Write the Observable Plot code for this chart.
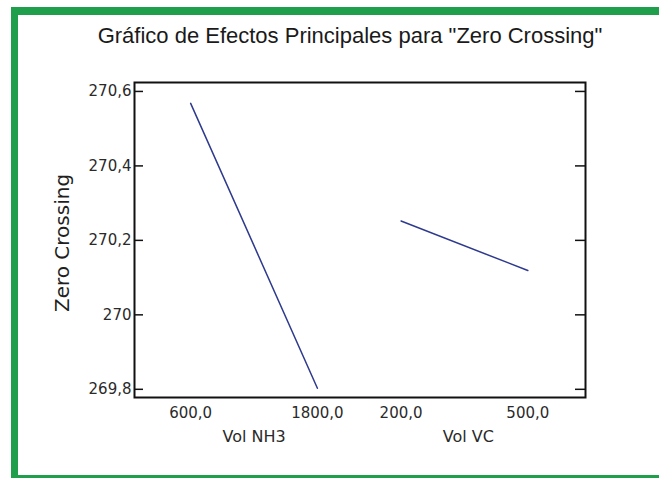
<!DOCTYPE html>
<html>
<head>
<meta charset="utf-8">
<script src="https://cdn.jsdelivr.net/npm/d3@7"></script>
<script src="https://cdn.jsdelivr.net/npm/@observablehq/plot@0.6"></script>
<style>
  html, body { margin: 0; padding: 0; background: #fff; width: 659px; height: 478px; overflow: hidden; }
  #border { position: absolute; left: 11px; top: 7px; width: 720px; height: 475px; box-sizing: border-box;
            border-top: 8px solid #1f9e4c; border-left: 7px solid #1f9e4c; border-bottom: 7px solid #1f9e4c; }
  #title { position: absolute; left: 0; top: 23px; width: 700px; text-align: center; line-height: 26px;
           font-family: "Liberation Sans", Arial, sans-serif; font-size: 22px; color: #1a1a1a; }
  #chart { position: absolute; left: 0; top: 0; }
</style>
</head>
<body>
<div id="border"></div>
<div id="title">Gráfico de Efectos Principales para "Zero Crossing"</div>
<div id="chart"></div>
<script>
const titleText = 'Gráfico de Efectos Principales para "Zero Crossing"';
const yLabel = "Zero Crossing";
const factors = ["Vol NH3", "Vol VC"];
const levelsNH3 = [600, 1800];
const meansNH3 = [270.568, 269.803];
const levelsVC = [200, 500];
const meansVC = [270.252, 270.119];
const levelLabelsNH3 = ["600,0", "1800,0"];
const levelLabelsVC = ["200,0", "500,0"];
const yTicks = [269.8, 270, 270.2, 270.4, 270.6];

const factorGap = 1.66; // horizontal spacing between factor panels (in level units)
const levels = [levelsNH3, levelsVC];
const means = [meansNH3, meansVC];
const levelLabels = [levelLabelsNH3, levelLabelsVC];

const rows = [];
factors.forEach((f, fi) => {
  levels[fi].forEach((lv, li) => {
    rows.push({factor: f, level: lv, label: levelLabels[fi][li], pos: fi * factorGap + li, mean: means[fi][li]});
  });
});
const factorRows = factors.map((f, fi) => ({factor: f, pos: fi * factorGap + 0.5 + fi * 0.03}));

const fmt = d => String(d).replace(".", ",");

const chart = Plot.plot({
  width: 659,
  height: 478,
  marginLeft: 134,
  marginRight: 74,
  marginTop: 82,
  marginBottom: 81,
  x: {domain: [-0.443, 3.115], axis: null},
  y: {domain: [269.778, 270.624], axis: null},
  style: {background: "transparent", overflow: "visible"},
  marks: [
    Plot.frame({stroke: "#111", strokeWidth: 2}),
    Plot.tickY(yTicks, {y: d => d, stroke: "#111", strokeWidth: 1.5, insetRight: 442}),
    Plot.tickY(yTicks, {y: d => d, stroke: "#111", strokeWidth: 1.5, insetLeft: 441}),
    Plot.text(yTicks, {y: d => d, text: fmt, frameAnchor: "left", dx: -3, textAnchor: "end",
      fontFamily: "DejaVu Sans", fontSize: 15, fill: "#2a2a2a", style: "letter-spacing:1px"}),
    Plot.line(rows, {x: "pos", y: "mean", z: "factor", stroke: "#2d3a8e", strokeWidth: 1.5}),
    Plot.text(rows, {x: "pos", text: "label", frameAnchor: "bottom", dy: 20,
      fontFamily: "DejaVu Sans", fontSize: 15, fill: "#2a2a2a"}),
    Plot.text(factorRows, {x: "pos", text: "factor", frameAnchor: "bottom", dy: 44,
      fontFamily: "DejaVu Sans", fontSize: 16, fill: "#2a2a2a"}),
    Plot.text([yLabel], {text: d => d, frameAnchor: "left", dx: -72, dy: 3, rotate: -90, textAnchor: "middle",
      fontFamily: "DejaVu Sans", fontSize: 20, fill: "#1f1f1f"})
  ]
});
document.getElementById("chart").appendChild(chart);
</script>
</body>
</html>
